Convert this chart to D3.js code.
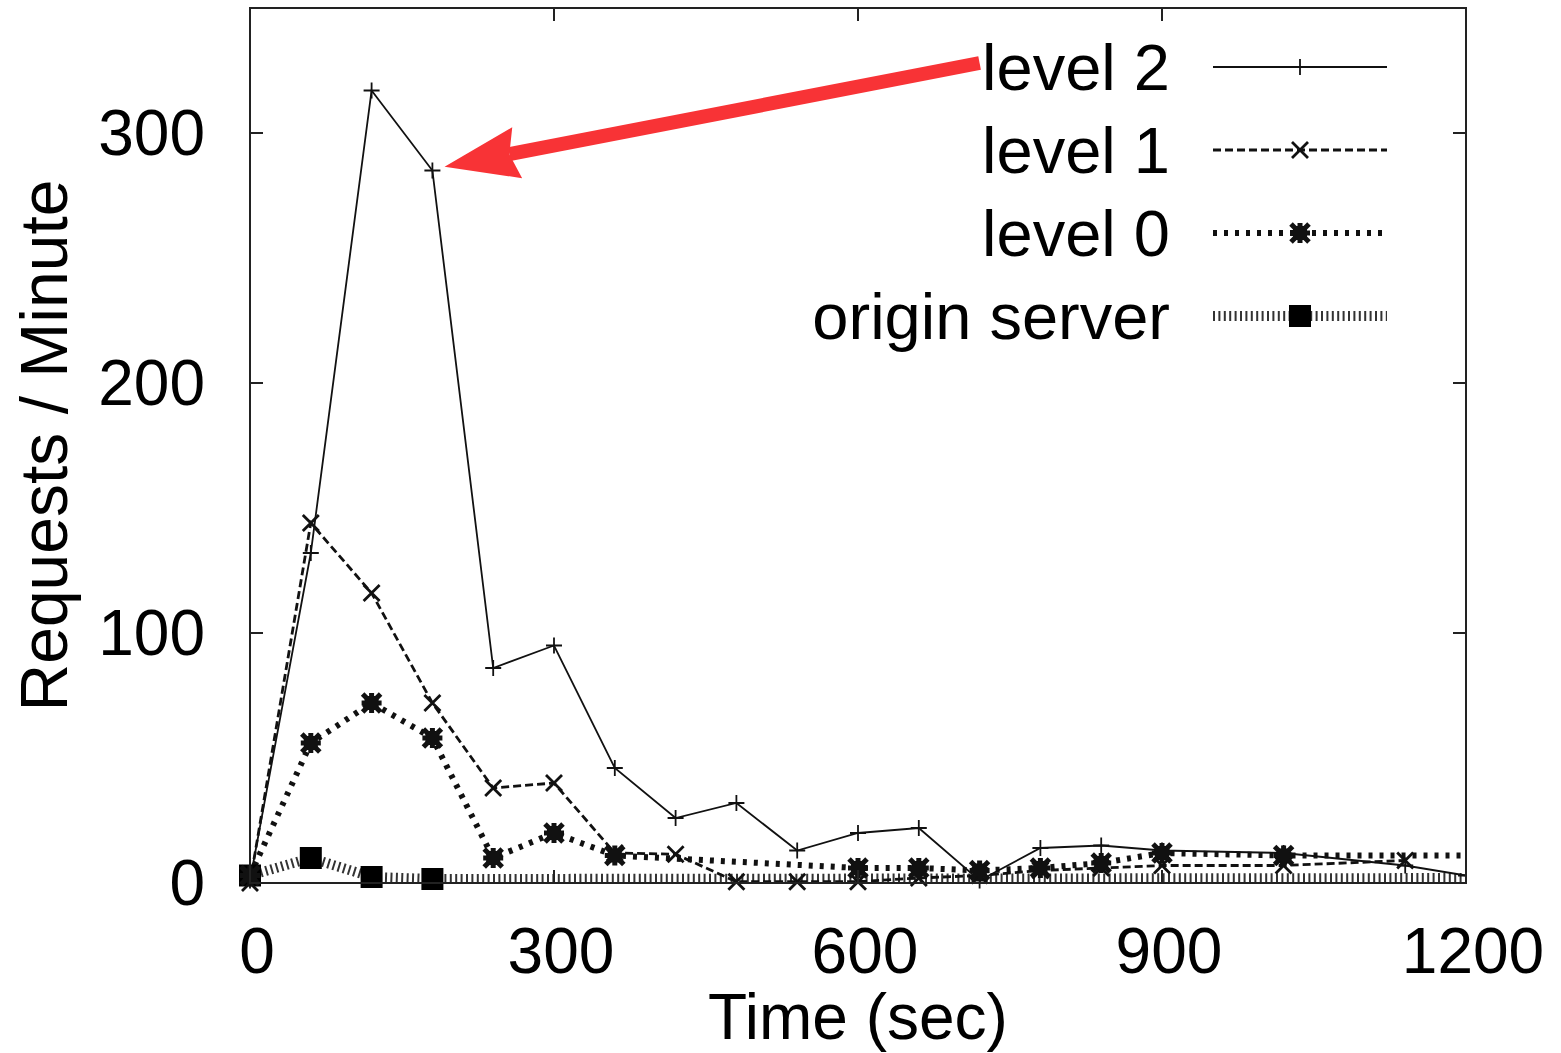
<!DOCTYPE html>
<html>
<head>
<meta charset="utf-8">
<script src="https://cdn.jsdelivr.net/npm/d3@7"></script>
<style>
  body { margin: 0; background: #fff; }
  text { font-family: "Liberation Sans", Arial, sans-serif; fill: #000; }
</style>
</head>
<body>
<div id="chart"></div>
<script>
const level2Times = [0, 60, 120, 180, 240, 300, 360, 420, 480, 540, 600, 660, 720, 780, 840, 900, 1020, 1140, 1200]
const level2Values = [1, 132, 317, 285, 86, 95, 46, 26, 32, 13, 20, 22, 1, 14, 15, 13, 12, 7, 3]

const level1Times = [0, 60, 120, 180, 240, 300, 360, 420, 480, 540, 600, 660, 720, 780, 840, 900, 1020, 1140]
const level1Values = [0, 144, 116, 72, 38, 40, 12, 11.5, 0.5, 0.5, 0.5, 2, 3, 5, 6, 7, 7, 9]

const level0Times = [0, 60, 120, 180, 240, 300, 360, 600, 660, 720, 780, 840, 900, 1020, 1260]
const level0Values = [3, 56, 72, 58, 10, 20, 11, 6, 6, 5, 6, 8, 12, 11, 11]

const originTimes = [0, 60, 120, 180, 1260]
const originValues = [3, 10, 2.4, 1.6, 2]

const xTicks = [0, 300, 600, 900, 1200]
const yTicks = [0, 100, 200, 300]

// annotation arrow, in data units: from the legend to the level 2 point at 180 s
const arrowFrom = [720, 328]
const arrowTo = [192, 286.5]

const width = 1561
const height = 1053
const margin = { left: 250, top: 8, right: 95, bottom: 170 }
const graphWidth = width - margin.left - margin.right
const graphHeight = height - margin.top - margin.bottom

const x = d3.scaleLinear().domain([0, 1200]).range([0, graphWidth])
const y = d3.scaleLinear().domain([0, 350]).range([graphHeight, 0])

const zip = (times, values) => times.map((t, i) => ({ t: t, v: values[i] }))

const series = [
  { name: "level 2", data: zip(level2Times, level2Values), width: 1.8, dash: null, marker: "plus" },
  { name: "level 1", data: zip(level1Times, level1Values), width: 2.8, dash: "8,4", marker: "cross" },
  { name: "level 0", data: zip(level0Times, level0Values), width: 6, dash: "4,7", marker: "star" },
  { name: "origin server", data: zip(originTimes, originValues), width: 10, dash: "2,3.4", marker: "square" }
]

const svg = d3.select("#chart").append("svg")
  .attr("width", width)
  .attr("height", height)

const g = svg.append("g")
  .attr("transform", `translate(${margin.left}, ${margin.top})`)

svg.append("defs").append("clipPath").attr("id", "plot-clip")
  .append("rect")
  .attr("x", -14).attr("y", -2)
  .attr("width", graphWidth + 14).attr("height", graphHeight + 14)

const drawMarker = (sel, kind) => {
  if (kind === "plus") {
    sel.append("path").attr("d", "M-8,0H8M0,-8V8")
      .attr("stroke", "#111").attr("stroke-width", 1.8).attr("fill", "none")
  } else if (kind === "cross") {
    sel.append("path").attr("d", "M-8,-8L8,8M-8,8L8,-8")
      .attr("stroke", "#111").attr("stroke-width", 2.8).attr("fill", "none")
  } else if (kind === "star") {
    sel.append("rect").attr("x", -7).attr("y", -7).attr("width", 14).attr("height", 14).attr("fill", "#111")
    sel.append("path").attr("d", "M-9,-9L9,9M-9,9L9,-9M-10,0H10M0,-10V10")
      .attr("stroke", "#111").attr("stroke-width", 5).attr("fill", "none")
  } else {
    sel.append("rect").attr("x", -11).attr("y", -11).attr("width", 22).attr("height", 22).attr("fill", "#000")
  }
}

const line = d3.line().x(d => x(d.t)).y(d => y(d.v))

const plot = g.append("g").attr("clip-path", "url(#plot-clip)")

const drawOrder = [3, 1, 0, 2]
drawOrder.forEach(i => {
  const s = series[i]
  plot.append("path")
    .datum(s.data)
    .attr("d", line)
    .attr("fill", "none")
    .attr("stroke", i === 3 ? "#333" : "#111")
    .attr("stroke-width", s.width)
    .attr("stroke-dasharray", s.dash)
})
drawOrder.forEach(i => {
  const s = series[i]
  plot.append("g").selectAll("g")
    .data(s.data.filter(d => d.t <= 1200))
    .join("g")
    .attr("transform", d => `translate(${x(d.t)}, ${y(d.v)})`)
    .each(function() { drawMarker(d3.select(this), s.marker) })
})

// frame and inward ticks
const tickLen = 13
g.append("rect")
  .attr("width", graphWidth).attr("height", graphHeight)
  .attr("fill", "none").attr("stroke", "#222").attr("stroke-width", 2)

const ticks = g.append("g").attr("stroke", "#222").attr("stroke-width", 2)
yTicks.forEach(v => {
  ticks.append("line").attr("x1", 0).attr("x2", tickLen).attr("y1", y(v)).attr("y2", y(v))
  ticks.append("line").attr("x1", graphWidth - tickLen).attr("x2", graphWidth).attr("y1", y(v)).attr("y2", y(v))
})
xTicks.forEach(t => {
  ticks.append("line").attr("x1", x(t)).attr("x2", x(t)).attr("y1", graphHeight).attr("y2", graphHeight - tickLen)
  ticks.append("line").attr("x1", x(t)).attr("x2", x(t)).attr("y1", 0).attr("y2", tickLen)
})

const fontSize = 64

g.append("g").selectAll("text")
  .data(yTicks)
  .join("text")
  .attr("x", -45)
  .attr("y", d => y(d))
  .attr("dy", "0.35em")
  .attr("text-anchor", "end")
  .attr("font-size", fontSize)
  .text(d => d)

g.append("g").selectAll("text")
  .data(xTicks)
  .join("text")
  .attr("x", d => x(d) + 7)
  .attr("y", graphHeight + 90)
  .attr("text-anchor", "middle")
  .attr("font-size", fontSize)
  .text(d => d)

g.append("text")
  .attr("x", graphWidth / 2)
  .attr("y", graphHeight + 156)
  .attr("text-anchor", "middle")
  .attr("font-size", fontSize)
  .text("Time (sec)")

g.append("text")
  .attr("transform", `translate(${67 - margin.left}, ${graphHeight / 2}) rotate(-90)`)
  .attr("text-anchor", "middle")
  .attr("font-size", 66)
  .text("Requests / Minute")

// legend
const legend = g.append("g")
series.forEach((s, i) => {
  const rowY = 59 + i * 83
  legend.append("text")
    .attr("x", graphWidth - 296)
    .attr("y", rowY)
    .attr("dy", "0.35em")
    .attr("text-anchor", "end")
    .attr("font-size", 65)
    .text(s.name)
  legend.append("line")
    .attr("x1", graphWidth - 253).attr("x2", graphWidth - 79)
    .attr("y1", rowY).attr("y2", rowY)
    .attr("stroke", i === 3 ? "#333" : "#111")
    .attr("stroke-width", s.width)
    .attr("stroke-dasharray", s.dash)
  legend.append("g")
    .attr("transform", `translate(${graphWidth - 166}, ${rowY})`)
    .call(sel => drawMarker(sel, s.marker))
})

// red arrow
const red = "#f83336"
const x0 = x(arrowFrom[0]), y0 = y(arrowFrom[1])
const x1 = x(arrowTo[0]), y1 = y(arrowTo[1])
const angle = Math.atan2(y1 - y0, x1 - x0)
const headLen = 74, headHalf = 26
const bx = x1 - headLen * Math.cos(angle), by = y1 - headLen * Math.sin(angle)
g.append("line")
  .attr("x1", x0).attr("y1", y0)
  .attr("x2", bx + 8 * Math.cos(angle)).attr("y2", by + 8 * Math.sin(angle))
  .attr("stroke", red).attr("stroke-width", 14)
g.append("path")
  .attr("d", `M${x1},${y1}L${bx - headHalf * Math.sin(angle)},${by + headHalf * Math.cos(angle)}L${bx + 8 * Math.cos(angle)},${by + 8 * Math.sin(angle)}L${bx + headHalf * Math.sin(angle)},${by - headHalf * Math.cos(angle)}Z`)
  .attr("fill", red)
</script>
</body>
</html>
